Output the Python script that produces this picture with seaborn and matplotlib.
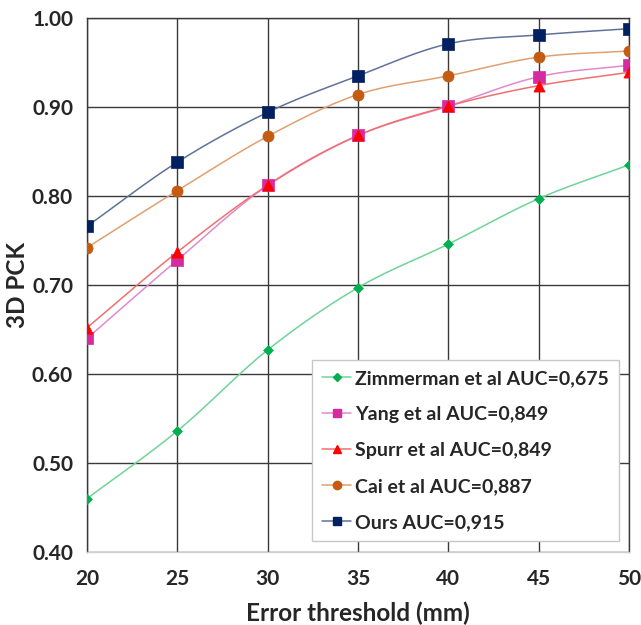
import numpy as np
import pandas as pd
import matplotlib
matplotlib.use("Agg")
import matplotlib.pyplot as plt
from matplotlib.lines import Line2D
import seaborn as sns

thresholds = [20, 25, 30, 35, 40, 45, 50]
zimmerman = [0.460, 0.536, 0.627, 0.697, 0.746, 0.797, 0.835]
yang = [0.640, 0.728, 0.812, 0.868, 0.901, 0.934, 0.947]
spurr = [0.652, 0.737, 0.812, 0.868, 0.901, 0.924, 0.939]
cai = [0.742, 0.806, 0.867, 0.914, 0.935, 0.956, 0.963]
ours = [0.766, 0.838, 0.894, 0.935, 0.971, 0.981, 0.988]
labels = ["Zimmerman et al AUC=0,675", "Yang et al AUC=0,849",
          "Spurr et al AUC=0,849", "Cai et al AUC=0,887", "Ours AUC=0,915"]
yticks = [0.40, 0.50, 0.60, 0.70, 0.80, 0.90, 1.00]

series = [zimmerman, yang, spurr, cai, ours]
marker_colors = ["#00B050", "#D62AA0", "#FF0000", "#C55A11", "#002060"]
line_colors = ["#6FD49A", "#E08AD0", "#F07070", "#E0A070", "#5F7299"]
markers = ["D", "s", "^", "o", "s"]
msizes = [5, 8, 8, 8, 8]

sns.set_theme(style="white")
plt.rcParams['font.family'] = ['Lato', 'DejaVu Sans']

fig = plt.figure(figsize=(6.41, 6.25), dpi=100)
ax = fig.add_axes([0.1357, 0.1168, 0.8455, 0.8544])


def smooth(x, y, n=20):
    # Hermite curve through the given points (rendering only)
    x = np.asarray(x, float); y = np.asarray(y, float)
    px = np.concatenate([[2 * x[0] - x[1]], x, [2 * x[-1] - x[-2]]])
    py = np.concatenate([[2 * y[0] - y[1]], y, [2 * y[-1] - y[-2]]])
    xs, ys = [], []
    for i in range(1, len(px) - 2):
        t = np.linspace(0, 1, n, endpoint=False)
        for arr, out in ((px, xs), (py, ys)):
            p0, p1, p2, p3 = arr[i - 1], arr[i], arr[i + 1], arr[i + 2]
            m1 = (p2 - p0) / 2
            m2 = (p3 - p1) / 2
            h00 = 2 * t**3 - 3 * t**2 + 1
            h10 = t**3 - 2 * t**2 + t
            h01 = -2 * t**3 + 3 * t**2
            h11 = t**3 - t**2
            out.extend(h00 * p1 + h10 * m1 + h01 * p2 + h11 * m2)
    xs.append(x[-1]); ys.append(y[-1])
    return np.array(xs), np.array(ys)


handles = []
for vals, lab, mc, lc, mk, ms in zip(series, labels, marker_colors, line_colors, markers, msizes):
    sx, sy = smooth(thresholds, vals)
    ax.plot(sx, sy, color=lc, lw=1.1, zorder=3)
    df = pd.DataFrame({"x": thresholds, "y": vals})
    sns.scatterplot(data=df, x="x", y="y", marker=mk, color=mc, s=ms**2,
                    edgecolor=mc, linewidth=0.5, ax=ax, zorder=4, legend=False)
    handles.append(Line2D([0], [0], color=lc, lw=1.1, marker=mk, markersize=ms * 0.75,
                          markerfacecolor=mc, markeredgecolor=mc))

ax.set_xlim(20, 50)
ax.set_ylim(0.40, 1.00)
ax.set_xticks(thresholds)
ax.set_yticks(yticks)
ax.set_yticklabels([f"{v:.2f}" for v in yticks])
ax.grid(True, color="#3a3a3a", lw=1.0, zorder=0)
ax.set_axisbelow(True)
for s in ["left", "top", "right"]:
    ax.spines[s].set_color("#3a3a3a")
    ax.spines[s].set_linewidth(1.0)
ax.spines["bottom"].set_color("#d0d0d0")
ax.spines["bottom"].set_linewidth(1.0)

ax.tick_params(axis="both", length=0, labelsize=15)
ax.tick_params(axis="x", pad=12)
ax.tick_params(axis="y", pad=10)
for t in ax.get_xticklabels() + ax.get_yticklabels():
    t.set_fontweight("bold")
ax.set_xlabel("Error threshold (mm)", fontsize=17.5, fontweight="bold", labelpad=9)
ax.set_ylabel("3D PCK", fontsize=17.5, fontweight="bold", labelpad=2)

leg = ax.legend(handles, labels, loc="lower right", bbox_to_anchor=(0.981, 0.021),
                fontsize=14, frameon=True, fancybox=False, framealpha=1,
                edgecolor="#c8c8c8", handlelength=1.5, handletextpad=0.2,
                borderpad=0.5, labelspacing=0.98, borderaxespad=0)
for t in leg.get_texts():
    t.set_fontweight("bold")
leg.get_frame().set_linewidth(1.0)

fig.savefig("out.png", dpi=100)
